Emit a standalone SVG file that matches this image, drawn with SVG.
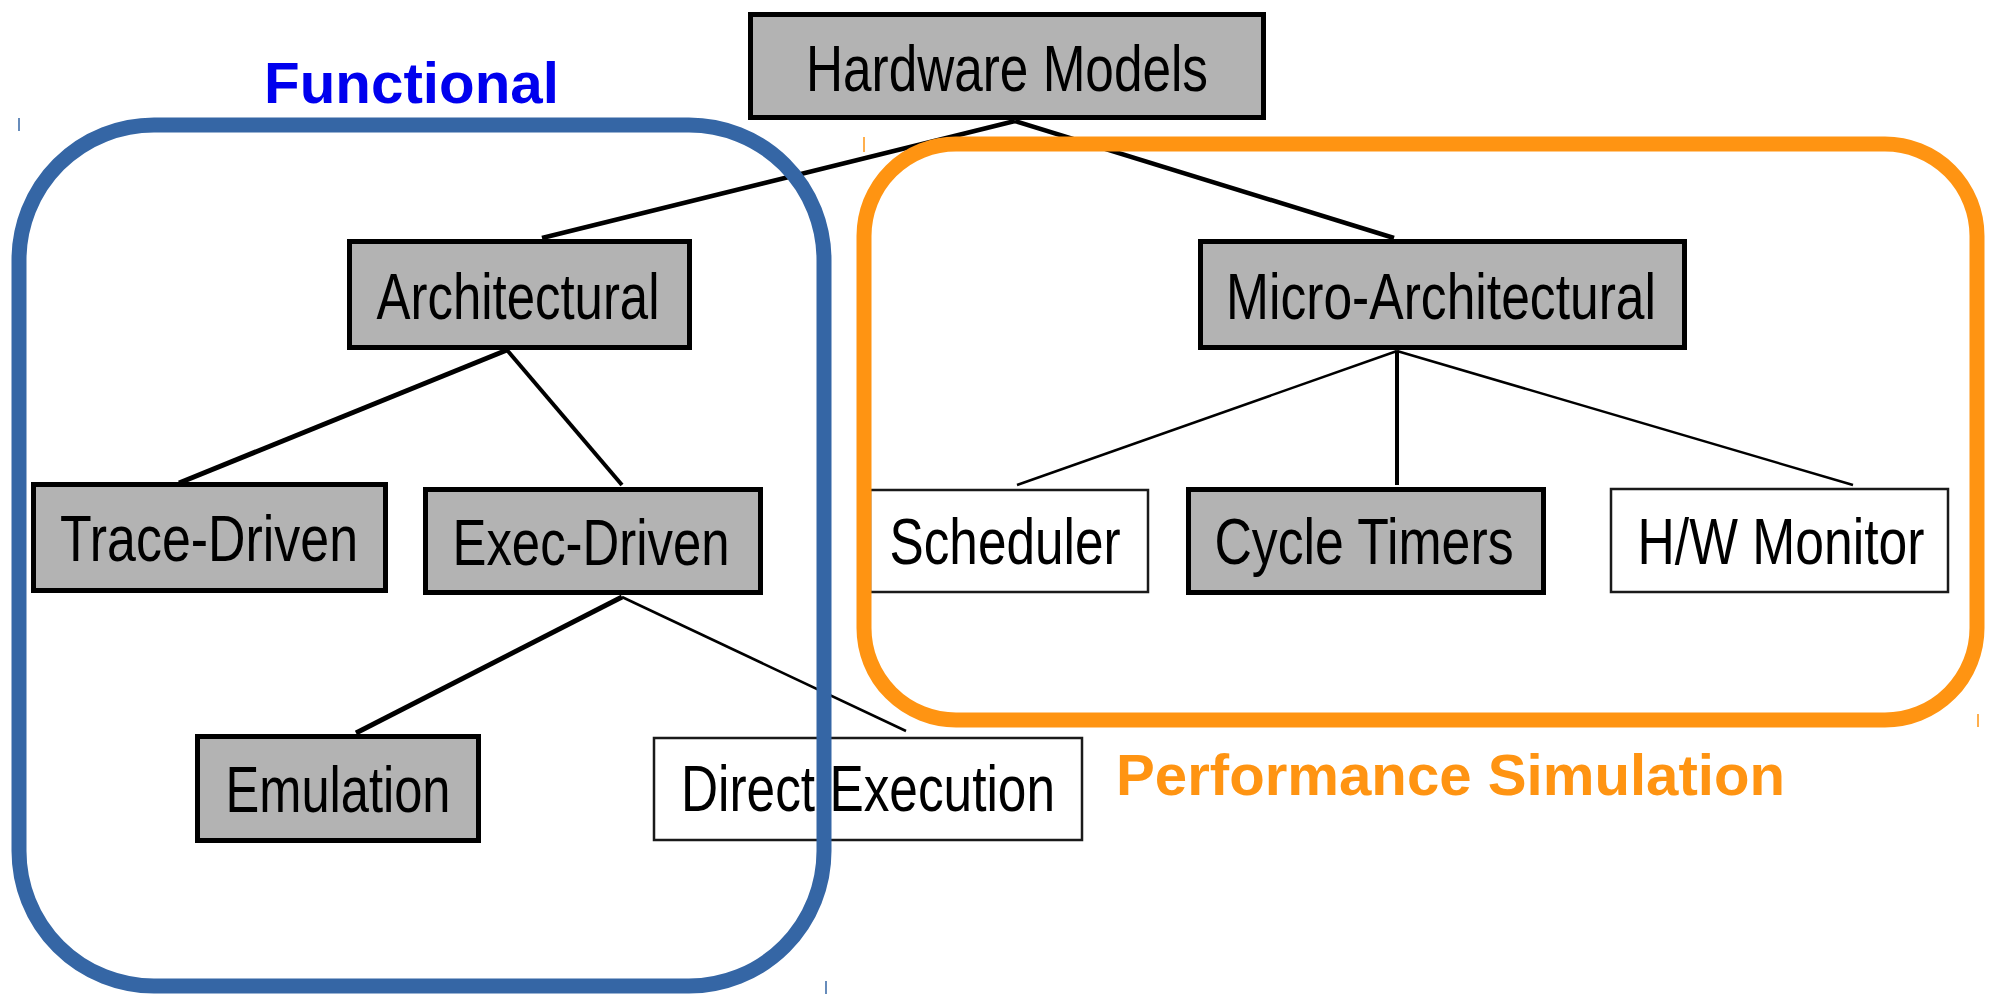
<svg xmlns="http://www.w3.org/2000/svg" width="1993" height="994" viewBox="0 0 1993 994">
<style>
.box{fill:#b3b3b3;stroke:#000;stroke-width:5}
.wbox{fill:#fff;stroke:#1a1a1a;stroke-width:2.5}
.lbl{font-family:"Liberation Sans",Arial,sans-serif;font-size:64px;fill:#000;text-anchor:middle}
.ln{stroke:#000;fill:none;stroke-linecap:butt}
.grp{font-family:"Liberation Sans",Arial,sans-serif;font-weight:bold;font-size:58px}
</style>
<rect width="1993" height="994" fill="#fff"/>
<g id="connectors">
<line class="ln" x1="1015" y1="121" x2="542" y2="238" stroke-width="4.5"/>
<line class="ln" x1="1015" y1="121" x2="1394" y2="238" stroke-width="4.5"/>
<line class="ln" x1="507" y1="350" x2="179" y2="483" stroke-width="5"/>
<line class="ln" x1="507" y1="350" x2="622" y2="485" stroke-width="4"/>
<line class="ln" x1="622" y1="597" x2="356" y2="733" stroke-width="5"/>
<line class="ln" x1="622" y1="597" x2="906" y2="731" stroke-width="2.5"/>
<line class="ln" x1="1397" y1="351" x2="1017" y2="485" stroke-width="2.5"/>
<line class="ln" x1="1397" y1="351" x2="1397" y2="485" stroke-width="4"/>
<line class="ln" x1="1397" y1="351" x2="1853" y2="485" stroke-width="2.5"/>
</g>
<g id="hardware-models"><rect class="box" x="750.5" y="14.5" width="513" height="103"/><text class="lbl" x="1007" y="91" textLength="402" lengthAdjust="spacingAndGlyphs">Hardware Models</text></g>
<g id="architectural"><rect class="box" x="349.5" y="241.5" width="340" height="106"/><text class="lbl" x="518" y="319" textLength="283" lengthAdjust="spacingAndGlyphs">Architectural</text></g>
<g id="micro-architectural"><rect class="box" x="1200.5" y="241.5" width="484" height="106"/><text class="lbl" x="1441" y="319" textLength="430" lengthAdjust="spacingAndGlyphs">Micro-Architectural</text></g>
<g id="trace-driven"><rect class="box" x="33.5" y="484.5" width="352" height="106"/><text class="lbl" x="209" y="561" textLength="298" lengthAdjust="spacingAndGlyphs">Trace-Driven</text></g>
<g id="exec-driven"><rect class="box" x="425.5" y="489.5" width="335" height="103"/><text class="lbl" x="591" y="565" textLength="277" lengthAdjust="spacingAndGlyphs">Exec-Driven</text></g>
<g id="emulation"><rect class="box" x="197.5" y="736.5" width="281" height="104"/><text class="lbl" x="338" y="812" textLength="225" lengthAdjust="spacingAndGlyphs">Emulation</text></g>
<g id="direct-execution"><rect class="wbox" x="654" y="738" width="428" height="102"/><text class="lbl" x="868" y="811" textLength="374" lengthAdjust="spacingAndGlyphs">Direct Execution</text></g>
<g id="scheduler"><rect class="wbox" x="870" y="490" width="278" height="102"/><text class="lbl" x="1005" y="564" textLength="231" lengthAdjust="spacingAndGlyphs">Scheduler</text></g>
<g id="cycle-timers"><rect class="box" x="1188.5" y="489.5" width="355" height="103"/><text class="lbl" x="1364" y="564" textLength="299" lengthAdjust="spacingAndGlyphs">Cycle Timers</text></g>
<g id="hw-monitor"><rect class="wbox" x="1611" y="489" width="337" height="103"/><text class="lbl" x="1781" y="564" textLength="287" lengthAdjust="spacingAndGlyphs">H/W Monitor</text></g>
<g id="functional-group">
<rect x="19" y="125" width="805" height="861" rx="135" ry="135" fill="none" stroke="#3566a5" stroke-width="15"/>
<line x1="19" y1="118" x2="19" y2="131" stroke="#3566a5" stroke-width="1.5"/>
<line x1="826" y1="981" x2="826" y2="994" stroke="#3566a5" stroke-width="1.5"/>
<text class="grp" x="264" y="103" fill="#0000ee" textLength="295" lengthAdjust="spacingAndGlyphs">Functional</text>
</g>
<g id="performance-group">
<rect x="864" y="144" width="1113" height="576" rx="92" ry="92" fill="none" stroke="#ff9412" stroke-width="15"/>
<line x1="864" y1="137" x2="864" y2="152" stroke="#ff9412" stroke-width="1.5"/>
<line x1="1978" y1="714" x2="1978" y2="727" stroke="#ff9412" stroke-width="1.5"/>
<text class="grp" x="1116" y="795" fill="#ff9412" textLength="669" lengthAdjust="spacingAndGlyphs">Performance Simulation</text>
</g>
</svg>
